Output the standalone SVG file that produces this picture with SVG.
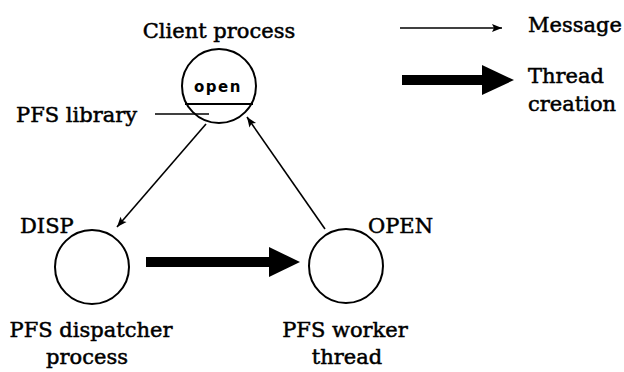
<svg xmlns="http://www.w3.org/2000/svg" width="624" height="372" viewBox="0 0 624 372">
<defs>
<style>
.t{font-family:"DejaVu Serif","Liberation Serif",serif;font-size:21px;fill:#000;stroke:#000;stroke-width:0.5}
.c{fill:#fff;stroke:#000;stroke-width:2}
.m{stroke:#000;stroke-width:1.6;fill:none}
</style>
<marker id="ah" viewBox="0 0 10 10" refX="10" refY="5" markerWidth="18" markerHeight="10" markerUnits="userSpaceOnUse" orient="auto">
<path d="M0,1 L10,5 L0,9 L2,5 Z" fill="#000"/>
</marker>
</defs>
<rect width="624" height="372" fill="#fff"/>
<g id="client">
<circle class="c" cx="219" cy="86" r="37"/>
<line x1="185" y1="104" x2="253" y2="104" stroke="#000" stroke-width="2"/>
<text x="218" y="92" text-anchor="middle" font-family="DejaVu Sans, sans-serif" font-size="15" font-weight="bold" letter-spacing="1.5">open</text>
<text class="t" x="219" y="38" text-anchor="middle">Client process</text>
</g>
<g id="pfslib">
<text class="t" x="16" y="122">PFS library</text>
<line x1="155" y1="114" x2="209" y2="114" stroke="#000" stroke-width="1.6"/>
</g>
<g id="disp">
<circle class="c" cx="92" cy="267" r="37"/>
<text class="t" x="20" y="233">DISP</text>
<text class="t" x="91" y="337" text-anchor="middle">PFS dispatcher</text>
<text class="t" x="87" y="364" text-anchor="middle">process</text>
</g>
<g id="open">
<circle class="c" cx="346" cy="266" r="37"/>
<text class="t" x="368" y="233">OPEN</text>
<text class="t" x="345" y="337" text-anchor="middle">PFS worker</text>
<text class="t" x="347" y="364" text-anchor="middle">thread</text>
</g>
<g id="legend">
<line class="m" x1="400" y1="28" x2="502" y2="28" marker-end="url(#ah)"/>
<text class="t" x="528" y="32">Message</text>
<line x1="402" y1="80" x2="486" y2="80" stroke="#000" stroke-width="10"/>
<path d="M482,65 L514,80 L482,95 Z" fill="#000"/>
<text class="t" x="528" y="83">Thread</text>
<text class="t" x="528" y="111">creation</text>
</g>
<g id="connectors">
<line class="m" x1="206" y1="124" x2="117" y2="227" marker-end="url(#ah)"/>
<line class="m" x1="325" y1="229" x2="247" y2="117" marker-end="url(#ah)"/>
<line x1="146" y1="262" x2="272" y2="262" stroke="#000" stroke-width="10"/>
<path d="M269,247 L300,262 L269,277 Z" fill="#000"/>
</g>
</svg>
